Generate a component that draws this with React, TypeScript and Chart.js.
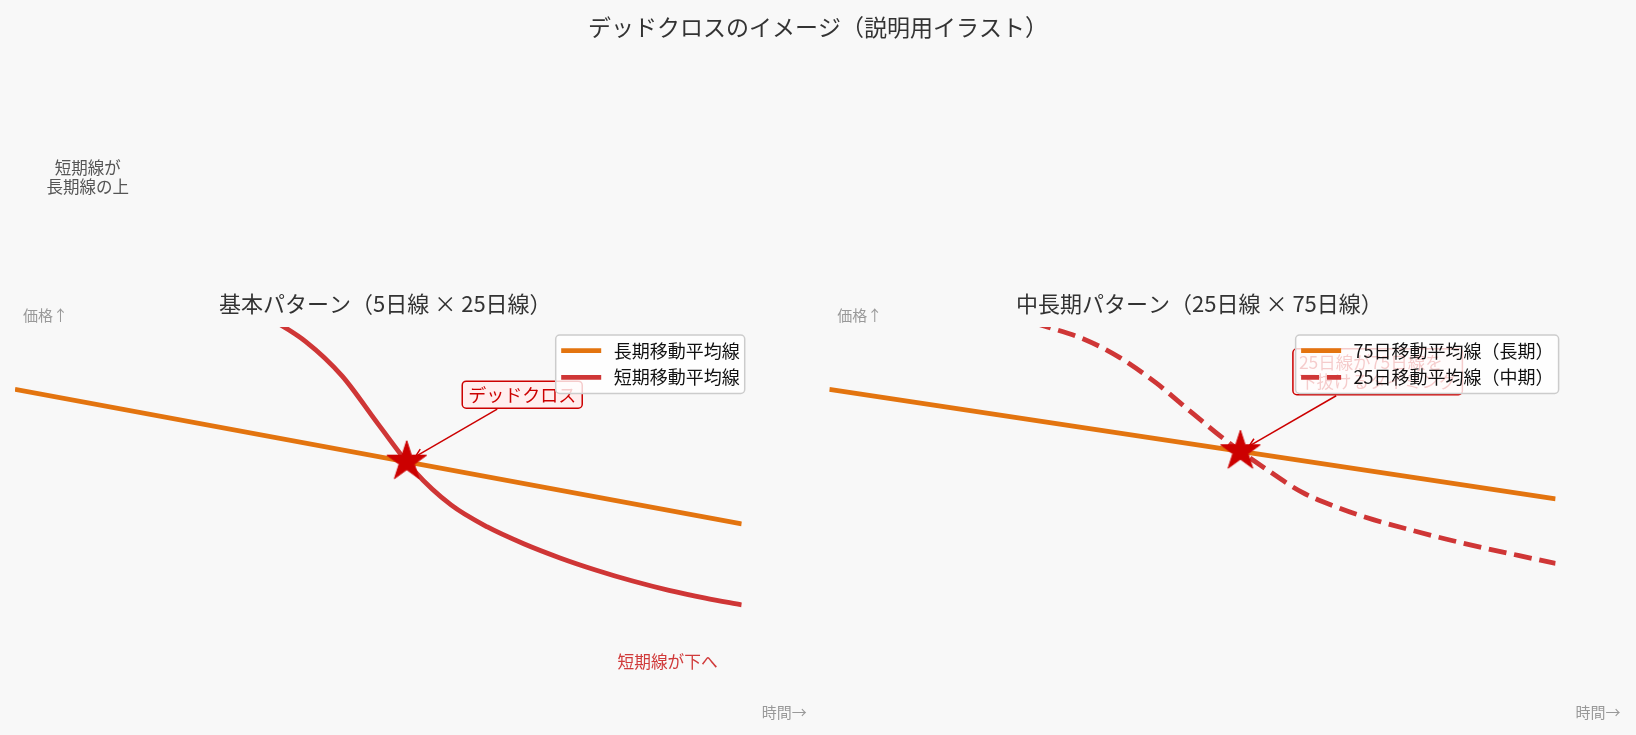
import React, { useEffect, useRef } from "react";
import { Chart, registerables } from "chart.js";

Chart.register(...registerables);

const FONT = '"Noto Sans CJK JP", "Noto Sans", sans-serif';

// ---------------- data ----------------
const timeAxis = [0, 5, 10, 15, 20, 25, 30, 35, 40, 45, 50, 55, 60, 65, 70, 75, 80, 85, 90, 95, 100];

const basicLongX = [0, 100];
const basicLongMA = [83.3, 47.2];
const basicShortMA = [119.8, 119.0, 118.0, 116.4, 114.0, 111.1, 107.2, 102.3, 96.1, 86.9, 73.9, 61.3, 52.3, 46.4, 41.9, 38.1, 34.8, 31.9, 29.4, 27.3, 25.5];
const basicCross = [53.9, 63.9];

const midLongX = [0, 100];
const midLongMA = [83.3, 53.9];
const midShortMA = [108.3, 107.9, 107.2, 106.2, 104.7, 102.8, 100.0, 96.8, 91.8, 85.0, 76.9, 69.0, 62.1, 55.8, 51.6, 48.3, 45.6, 43.1, 40.8, 38.7, 36.6];
const midCross = [56.6, 66.7];

const mainTitle = "デッドクロスのイメージ（説明用イラスト）";
const panelTitles = ["基本パターン（5日線 × 25日線）", "中長期パターン（25日線 × 75日線）"];
const basicLabels = ["長期移動平均線", "短期移動平均線"];
const midLabels = ["75日移動平均線（長期）", "25日移動平均線（中期）"];
const priceHint = "価格↑";
const timeHint = "時間→";
const basicAnnotationText = ["デッドクロス"];
const midAnnotationText = ["25日線が75日線を", "下抜けるタイミング"];
const upperNote = ["短期線が", "長期線の上"];
const lowerNote = ["短期線が下へ"];

// ---------------- styles ----------------
const ORANGE = "#e3740f";
const RED = "#cf3636";
const STAR_RED = "#cc0000";

function makeStar(R: number, color: string): HTMLCanvasElement {
  const c = document.createElement("canvas");
  const s = Math.ceil(R * 2 + 4);
  c.width = s;
  c.height = s;
  const ctx = c.getContext("2d")!;
  const r = R * 0.381966;
  ctx.translate(s / 2, s / 2);
  ctx.beginPath();
  for (let k = 0; k < 10; k++) {
    const a = -Math.PI / 2 + (k * Math.PI) / 5;
    const rr = k % 2 === 0 ? R : r;
    const px = rr * Math.cos(a);
    const py = rr * Math.sin(a);
    if (k === 0) ctx.moveTo(px, py);
    else ctx.lineTo(px, py);
  }
  ctx.closePath();
  ctx.fillStyle = color;
  ctx.fill();
  ctx.strokeStyle = color;
  ctx.lineWidth = 1;
  ctx.stroke();
  return c;
}

function roundRectPath(ctx: CanvasRenderingContext2D, x: number, y: number, w: number, h: number, r: number) {
  ctx.beginPath();
  ctx.moveTo(x + r, y);
  ctx.lineTo(x + w - r, y);
  ctx.arcTo(x + w, y, x + w, y + r, r);
  ctx.lineTo(x + w, y + h - r);
  ctx.arcTo(x + w, y + h, x + w - r, y + h, r);
  ctx.lineTo(x + r, y + h);
  ctx.arcTo(x, y + h, x, y + h - r, r);
  ctx.lineTo(x, y + r);
  ctx.arcTo(x, y, x + r, y, r);
  ctx.closePath();
}

type Note = { lines: string[]; x: number; y: number; color: string; size: number; lineH: number };
type Annot = { lines: string[]; x: number; y: number; size: number; lineH: number; align: "center" | "left"; target: number[] };
type PanelCfg = {
  title: string;
  showMain: boolean;
  notes: Note[];
  annot: Annot;
};

function makeOverlay(cfg: PanelCfg) {
  return {
    id: "overlay",
    afterDatasetsDraw(chart: any) {
      const ctx: CanvasRenderingContext2D = chart.ctx;
      const ca = chart.chartArea;
      const xs = chart.scales.x;
      const ys = chart.scales.y;
      ctx.save();
      ctx.textBaseline = "middle";

      // main title
      if (cfg.showMain) {
        ctx.font = `23px ${FONT}`;
        ctx.fillStyle = "#333333";
        ctx.textAlign = "center";
        ctx.fillText(mainTitle, 818, 27);
      }

      // panel title
      ctx.font = `22px ${FONT}`;
      ctx.fillStyle = "#333333";
      ctx.textAlign = "center";
      ctx.fillText(cfg.title, (ca.left + ca.right) / 2 + 7, ca.top - 23);

      // axis hints
      ctx.font = `15px ${FONT}`;
      ctx.fillStyle = "#999999";
      ctx.textAlign = "left";
      ctx.fillText(priceHint, ca.left + 8, ca.top - 11.5);
      ctx.fillText(timeHint, ca.right + 20, ca.bottom + 12);

      // notes
      for (const n of cfg.notes) {
        ctx.font = `${n.size}px ${FONT}`;
        ctx.fillStyle = n.color;
        ctx.textAlign = "center";
        const cx = xs.getPixelForValue(n.x);
        const cy = ys.getPixelForValue(n.y);
        const y0 = cy - ((n.lines.length - 1) * n.lineH) / 2;
        n.lines.forEach((l, i) => ctx.fillText(l, cx, y0 + i * n.lineH));
      }

      // annotation box + arrow
      const a = cfg.annot;
      ctx.font = `${a.size}px ${FONT}`;
      const tw = Math.max(...a.lines.map((l) => ctx.measureText(l).width));
      const padX = 6;
      const padY = 4.5;
      const bw = tw + padX * 2;
      const bh = (a.lines.length - 1) * a.lineH + a.size + padY * 2;
      const cx = xs.getPixelForValue(a.x);
      const cy = ys.getPixelForValue(a.y);
      const tx = xs.getPixelForValue(a.target[0]);
      const ty = ys.getPixelForValue(a.target[1]);
      const dx = tx - cx;
      const dy = ty - cy;
      const len = Math.hypot(dx, dy);
      const ux = dx / len;
      const uy = dy / len;
      const s = Math.min(bw / 2 / Math.abs(dx || 1e-6), bh / 2 / Math.abs(dy || 1e-6));
      const sx = cx + dx * s + ux * 2;
      const sy = cy + dy * s + uy * 2;
      const ex = tx - ux * 10;
      const ey = ty - uy * 10;
      ctx.strokeStyle = STAR_RED;
      ctx.lineWidth = 1.5;
      ctx.setLineDash([]);
      ctx.beginPath();
      ctx.moveTo(sx, sy);
      ctx.lineTo(ex, ey);
      ctx.stroke();
      const hl = 8;
      const hw = 4;
      ctx.beginPath();
      ctx.moveTo(ex - ux * hl - uy * hw, ey - uy * hl + ux * hw);
      ctx.lineTo(ex, ey);
      ctx.lineTo(ex - ux * hl + uy * hw, ey - uy * hl - ux * hw);
      ctx.stroke();
      roundRectPath(ctx, cx - bw / 2, cy - bh / 2, bw, bh, 4);
      ctx.fillStyle = "#ffeeee";
      ctx.fill();
      ctx.strokeStyle = STAR_RED;
      ctx.lineWidth = 1.5;
      ctx.stroke();
      ctx.fillStyle = STAR_RED;
      const ty0 = cy - ((a.lines.length - 1) * a.lineH) / 2;
      a.lines.forEach((l, i) => {
        if (a.align === "center") {
          ctx.textAlign = "center";
          ctx.fillText(l, cx, ty0 + i * a.lineH);
        } else {
          ctx.textAlign = "left";
          ctx.fillText(l, cx - bw / 2 + padX, ty0 + i * a.lineH);
        }
      });

      // legend
      const items = chart.data.datasets.filter((d: any) => d.inLegend);
      ctx.font = `18px ${FONT}`;
      const ltw = Math.max(...items.map((d: any) => ctx.measureText(d.label).width));
      const padL = 5.5;
      const sample = 40;
      const gap = 12.5;
      const padR = 5;
      const lw = padL + sample + gap + ltw + padR;
      const lh = 58.5;
      const lx = ca.right + 3 - lw;
      const ly = ca.top + 8;
      roundRectPath(ctx, lx, ly, lw, lh, 4);
      ctx.fillStyle = "rgba(255,255,255,0.8)";
      ctx.fill();
      ctx.strokeStyle = "#cccccc";
      ctx.lineWidth = 1.5;
      ctx.stroke();
      items.forEach((d: any, i: number) => {
        const yy = ly + 15.7 + i * 26.6;
        ctx.strokeStyle = d.borderColor;
        ctx.lineWidth = d.borderWidth;
        ctx.lineCap = "butt";
        ctx.setLineDash(d.borderDash || []);
        ctx.beginPath();
        ctx.moveTo(lx + padL, yy);
        ctx.lineTo(lx + padL + sample, yy);
        ctx.stroke();
        ctx.setLineDash([]);
        ctx.fillStyle = "#111111";
        ctx.textAlign = "left";
        ctx.fillText(d.label, lx + padL + sample + gap, yy);
      });

      ctx.restore();
    },
  };
}

function buildConfig(
  labels: string[],
  longX: number[],
  longY: number[],
  shortY: number[],
  cross: number[],
  dashed: boolean,
  padding: any,
  star: HTMLCanvasElement,
  cfg: PanelCfg
): any {
  const longDs = {
    label: labels[0],
    data: longX.map((x, i) => ({ x, y: longY[i] })),
    borderColor: ORANGE,
    backgroundColor: ORANGE,
    borderWidth: 4.8,
    borderCapStyle: "butt",
    pointRadius: 0,
    fill: false,
    clip: 0,
    order: 2,
    inLegend: true,
  };
  const shortDs = {
    label: labels[1],
    data: timeAxis.map((x, i) => ({ x, y: shortY[i] })),
    borderColor: RED,
    backgroundColor: RED,
    borderWidth: 4.8,
    borderDash: dashed ? [18, 7.8] : [],
    borderCapStyle: "butt",
    pointRadius: 0,
    tension: 0.4,
    cubicInterpolationMode: "monotone",
    fill: false,
    clip: 0,
    order: 1,
    inLegend: true,
  };
  const starDs = {
    type: "scatter",
    label: "cross",
    data: [{ x: cross[0], y: cross[1] }],
    pointStyle: star,
    pointRadius: 21,
    pointHoverRadius: 21,
    showLine: false,
    clip: false,
    order: 0,
    inLegend: false,
  };
  return {
    type: "line",
    data: { datasets: [longDs, shortDs, starDs] },
    options: {
      animation: false,
      responsive: false,
      events: [],
      layout: { padding, autoPadding: false },
      scales: {
        x: { type: "linear", min: 0, max: 100, display: false },
        y: { type: "linear", min: 0, max: 100, display: false },
      },
      plugins: {
        legend: { display: false },
        title: { display: false },
        tooltip: { enabled: false },
      },
    },
    plugins: [makeOverlay(cfg)],
  };
}

export default function App() {
  const leftRef = useRef<HTMLCanvasElement>(null);
  const rightRef = useRef<HTMLCanvasElement>(null);

  useEffect(() => {
    const star = makeStar(21, STAR_RED);
    const left = new Chart(
      leftRef.current!,
      buildConfig(
        basicLabels,
        basicLongX,
        basicLongMA,
        basicShortMA,
        basicCross,
        false,
        { left: 15, top: 327, right: 894.3, bottom: 35 },
        star,
        {
          title: panelTitles[0],
          showMain: true,
          notes: [
            { lines: upperNote, x: 10, y: 140.2, color: "#555555", size: 16.5, lineH: 19.2 },
            { lines: lowerNote, x: 89.8, y: 10.3, color: "#d03a3a", size: 16.7, lineH: 19.2 },
          ],
          annot: { lines: basicAnnotationText, x: 69.8, y: 81.85, size: 18, lineH: 20, align: "center", target: basicCross },
        }
      )
    );
    const right = new Chart(
      rightRef.current!,
      buildConfig(
        midLabels,
        midLongX,
        midLongMA,
        midShortMA,
        midCross,
        true,
        { left: 829.3, top: 327, right: 80.4, bottom: 35 },
        star,
        {
          title: panelTitles[1],
          showMain: false,
          notes: [],
          annot: { lines: midAnnotationText, x: 75.5, y: 88.0, size: 17.5, lineH: 19.5, align: "left", target: midCross },
        }
      )
    );
    return () => {
      left.destroy();
      right.destroy();
    };
  }, []);

  return (
    <div style={{ position: "fixed", left: 0, top: 0, width: 1636, height: 735, background: "#f8f8f8" }}>
      <canvas ref={leftRef} width={1636} height={735} style={{ position: "absolute", left: 0, top: 0 }} />
      <canvas ref={rightRef} width={1636} height={735} style={{ position: "absolute", left: 0, top: 0 }} />
    </div>
  );
}
